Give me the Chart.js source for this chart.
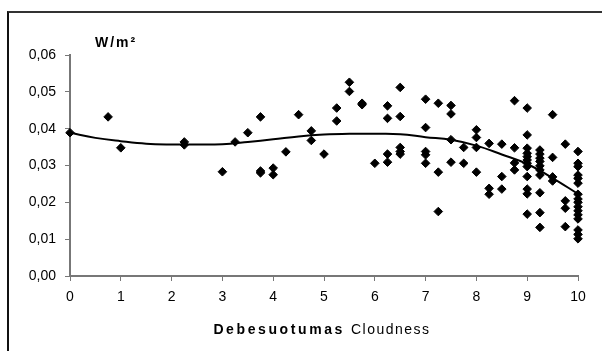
<!DOCTYPE html>
<html>
<head>
<meta charset="utf-8">
<script src="https://cdn.jsdelivr.net/npm/chart.js@4"></script>
<style>
  html, body { margin: 0; padding: 0; background: #fff; }
  #wrap { position: relative; width: 602px; height: 351px; overflow: hidden; }
  #frame { position: absolute; left: 7px; top: 11px; width: 700px; height: 400px;
           border-top: 2px solid #333; border-left: 2px solid #111; }
  canvas { position: absolute; left: 0; top: 0; }
</style>
</head>
<body>
<div id="wrap">
  <div id="frame"></div>
  <canvas id="cloudChart" width="602" height="351"></canvas>
</div>
<script>
// matavimai: debesuotumas (0-10) ir spinduliuote W/m2
const cloudX = [
  0, 0.75, 1, 2.25, 2.25, 3, 3.25, 3.5, 3.75, 3.75, 3.75, 4, 4, 4.25, 4.5,
  4.75, 4.75, 5, 5.25, 5.25, 5.5, 5.5, 5.75, 5.75, 6,
  6.25, 6.25, 6.25, 6.25, 6.5, 6.5, 6.5, 6.5, 6.5,
  7, 7, 7, 7, 7, 7.25, 7.25, 7.25, 7.5, 7.5, 7.5, 7.5, 7.75, 7.75,
  8, 8, 8, 8, 8.25, 8.25, 8.25, 8.5, 8.5, 8.5,
  8.75, 8.75, 8.75, 8.75,
  9, 9, 9, 9, 9, 9, 9, 9, 9, 9, 9, 9,
  9.25, 9.25, 9.25, 9.25, 9.25, 9.25, 9.25, 9.25, 9.25, 9.25,
  9.5, 9.5, 9.5, 9.5, 9.75, 9.75, 9.75, 9.75,
  10, 10, 10, 10, 10, 10, 10, 10, 10, 10, 10, 10, 10, 10, 10, 10
];
const wattY = [
  0.0389, 0.0432, 0.0348, 0.0364, 0.0356, 0.0283, 0.0364, 0.0389, 0.0432, 0.0285, 0.028, 0.0293, 0.0275, 0.0337, 0.0438,
  0.0394, 0.0368, 0.0331, 0.0456, 0.0421, 0.0526, 0.0501, 0.0469, 0.0465, 0.0306,
  0.0462, 0.0428, 0.0331, 0.0309, 0.0512, 0.0433, 0.0349, 0.0338, 0.0331,
  0.048, 0.0403, 0.0338, 0.0329, 0.0306, 0.0469, 0.0282, 0.0175, 0.0463, 0.044, 0.037, 0.0309, 0.0349, 0.0306,
  0.0397, 0.0376, 0.0349, 0.0282, 0.036, 0.0238, 0.0222, 0.0358, 0.027, 0.0236,
  0.0476, 0.0348, 0.0307, 0.0288,
  0.0456, 0.0383, 0.0347, 0.0333, 0.0324, 0.0315, 0.0306, 0.0297, 0.027, 0.0236, 0.0223, 0.0168,
  0.0342, 0.0331, 0.032, 0.0311, 0.0299, 0.0288, 0.0274, 0.0226, 0.0172, 0.0132,
  0.0438, 0.0322, 0.0269, 0.0258, 0.0358, 0.0204, 0.0184, 0.0134,
  0.0338, 0.0306, 0.0297, 0.0274, 0.0265, 0.0252, 0.0222, 0.0209, 0.02, 0.0188, 0.0177, 0.0166, 0.0155, 0.0125, 0.0113, 0.0101
];
// trendo linija (nuskaityta nuo paveikslo)
const trendX = [0, 0.5, 1, 1.5, 2, 2.5, 3, 3.5, 4, 4.5, 5, 5.5, 6, 6.5, 7, 7.5, 8, 8.5, 9, 9.5, 10];
const trendY = [0.0389, 0.0375, 0.0366, 0.0359, 0.0357, 0.0357, 0.0358, 0.0364, 0.0371, 0.0379, 0.0384,
                0.0386, 0.0386, 0.0385, 0.0377, 0.037, 0.0354, 0.033, 0.0304, 0.0266, 0.0223];
const yTickLabels = ['0,00', '0,01', '0,02', '0,03', '0,04', '0,05', '0,06'];
const xTickLabels = ['0', '1', '2', '3', '4', '5', '6', '7', '8', '9', '10'];

const FONT = 'Liberation Sans, Arial, sans-serif';

// tekstai: vienetai virsuje ir x asies pavadinimas (dvi dalys)
const labelsPlugin = {
  id: 'labels',
  afterDraw(chart) {
    const c = chart.ctx;
    c.save();
    c.fillStyle = '#000';
    c.textBaseline = 'middle';
    c.textAlign = 'left';
    c.font = 'bold 14px ' + FONT;
    c.letterSpacing = '2px';
    c.fillText('W/m²', 95, 43);

    c.font = 'bold 14px ' + FONT;
    c.letterSpacing = '2.6px';
    const part1 = 'Debesuotumas';
    const w1 = c.measureText(part1).width;
    c.font = '14px ' + FONT;
    c.letterSpacing = '1.5px';
    const part2 = 'Cloudness';
    const w2 = c.measureText(part2).width;
    const gap = 6;
    const start = 322 - (w1 + gap + w2) / 2;
    c.font = 'bold 14px ' + FONT;
    c.letterSpacing = '2.6px';
    c.fillText(part1, start, 330);
    c.font = '14px ' + FONT;
    c.letterSpacing = '1.5px';
    c.fillText(part2, start + w1 + gap, 330);
    c.restore();
  }
};

new Chart(document.getElementById('cloudChart'), {
  type: 'scatter',
  data: {
    datasets: [{
      label: 'Trend',
      type: 'line',
      data: trendX.map((x, i) => ({ x: x, y: trendY[i] })),
      borderColor: '#000',
      borderWidth: 2,
      pointRadius: 0,
      tension: 0.4,
      fill: false,
      clip: false
    }, {
      label: 'W/m²',
      data: cloudX.map((x, i) => ({ x: x, y: wattY[i] })),
      pointStyle: 'rectRot',
      pointRadius: 4.3,
      backgroundColor: '#000',
      borderColor: '#000',
      borderWidth: 1,
      clip: false
    }]
  },
  options: {
    responsive: false,
    animation: false,
    layout: { padding: { left: 0, right: 24, top: 55, bottom: 0 } },
    plugins: {
      legend: { display: false },
      tooltip: { enabled: false }
    },
    scales: {
      x: {
        type: 'linear',
        min: 0, max: 10,
        afterFit(scale) { scale.height = 75; },
        afterBuildTicks(scale) { scale.ticks = xTickLabels.map((t, i) => ({ value: i })); },
        ticks: {
          padding: 8,
          color: '#000',
          font: { family: FONT, size: 14 },
          callback: (v, i) => xTickLabels[i]
        },
        grid: { drawOnChartArea: false, drawTicks: true, tickLength: 5, color: '#777', lineWidth: 1 },
        border: { display: true, color: '#777', width: 2 }
      },
      y: {
        min: 0, max: 0.06,
        afterFit(scale) { scale.width = 70; },
        afterBuildTicks(scale) { scale.ticks = yTickLabels.map((t, i) => ({ value: i / 100 })); },
        ticks: {
          padding: 9,
          color: '#000',
          font: { family: FONT, size: 14 },
          callback: (v, i) => yTickLabels[i]
        },
        grid: { drawOnChartArea: false, drawTicks: true, tickLength: 5, color: '#777', lineWidth: 1 },
        border: { display: true, color: '#777', width: 2 }
      }
    }
  },
  plugins: [labelsPlugin]
});
</script>
</body>
</html>
